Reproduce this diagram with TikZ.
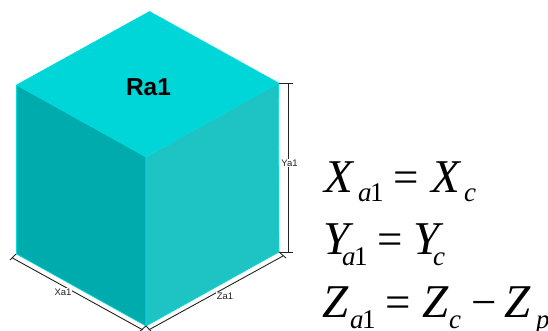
\documentclass[tikz,border=0pt]{standalone}
\usepackage{fontspec}
\setmainfont{Liberation Sans}
\newfontfamily\eqfont{Liberation Serif}
\definecolor{topc}{HTML}{00D5D8}
\definecolor{leftc}{HTML}{00ABAD}
\definecolor{rightc}{HTML}{1EC3C3}
\definecolor{edgec}{HTML}{00DDDD}
\definecolor{dimc}{HTML}{222222}
\tikzset{
 face/.style={draw=edgec,line width=0.6pt,line join=round},
 dimline/.style={draw=dimc,line width=0.9pt},
 dimlabel/.style={font=\fontsize{9.5}{10}\selectfont,fill=white,inner sep=1pt,text=dimc},
 big/.style={font=\eqfont\fontsize{47}{47}\selectfont\itshape,anchor=base west,inner sep=0pt},
 sub/.style={font=\eqfont\fontsize{27}{27}\selectfont\itshape,anchor=base west,inner sep=0pt},
 subup/.style={font=\eqfont\fontsize{27}{27}\selectfont,anchor=base west,inner sep=0pt},
 op/.style={font=\eqfont\fontsize{45}{45}\selectfont,anchor=base west,inner sep=0pt},
}
\begin{document}
\begin{tikzpicture}[x=1pt,y=-1pt]
\useasboundingbox (0,0) rectangle (548,331);
\coordinate (A) at (149.5,11.5);
\coordinate (L) at (16.5,85);
\coordinate (R) at (278.5,83);
\coordinate (C) at (146,157);
\coordinate (B) at (146,326);
\coordinate (BL) at (16.5,254);
\coordinate (BR) at (279,252);
\fill[topc,face] (A) -- (R) -- (C) -- (L) -- cycle;
\fill[leftc,face] (L) -- (C) -- (B) -- (BL) -- cycle;
\fill[rightc,face] (C) -- (R) -- (BR) -- (B) -- cycle;
\node[font=\bfseries\fontsize{24.5}{25}\selectfont,inner sep=0pt] (ra) at (148.5,87) {Ra1};
% dimensions
\coordinate (y1) at (288,83);
\coordinate (y2) at (288,252);
\coordinate (x1) at (12.5,258);
\coordinate (x2) at (143,330);
\coordinate (z1) at (148.5,330);
\coordinate (z2) at (283,256);
\draw[dimline] (y1) -- (y2);
\draw[dimline] (279,83) -- (293,83);
\draw[dimline] (279,252) -- (293,252);
\draw[dimline] (x1) -- (x2);
\draw[dimline] (10,260) -- (16,254);
\draw[dimline] (140,331) -- (146,326);
\draw[dimline] (z1) -- (z2);
\draw[dimline] (146,326) -- (151,331);
\draw[dimline] (279,252) -- (286,258);
\node[dimlabel] (ya) at (289.5,163) {Ya1};
\node[dimlabel] (xa) at (63,292) {Xa1};
\node[dimlabel] (za) at (225,296.5) {Za1};
% equations
\node[big] (e1) at (324,192) {X};
\node[sub] (e2) at (358,201) {a};
\node[subup] (e3) at (370,201) {1};
\node[op] (e4) at (393,192) {=};
\node[big] (e5) at (431,192) {X};
\node[sub] (e6) at (464,201) {c};
\node[big] (f1) at (323,254) {Y};
\node[sub] (f2) at (342,265) {a};
\node[subup] (f3) at (354,265) {1};
\node[op] (f4) at (377,254) {=};
\node[big] (f5) at (413,254) {Y};
\node[sub] (f6) at (433,265) {c};
\node[big] (g1) at (322,317) {Z};
\node[sub] (g2) at (350,328) {a};
\node[subup] (g3) at (362,328) {1};
\node[op] (g4) at (385,317) {=};
\node[big] (g5) at (422,317) {Z};
\node[sub] (g6) at (449,328) {c};
\node[op] (g7) at (471,317) {\symbol{"2212}};
\node[big] (g8) at (504,317) {Z};
\node[sub] (g9) at (536,328) {p};
\end{tikzpicture}
\end{document}
